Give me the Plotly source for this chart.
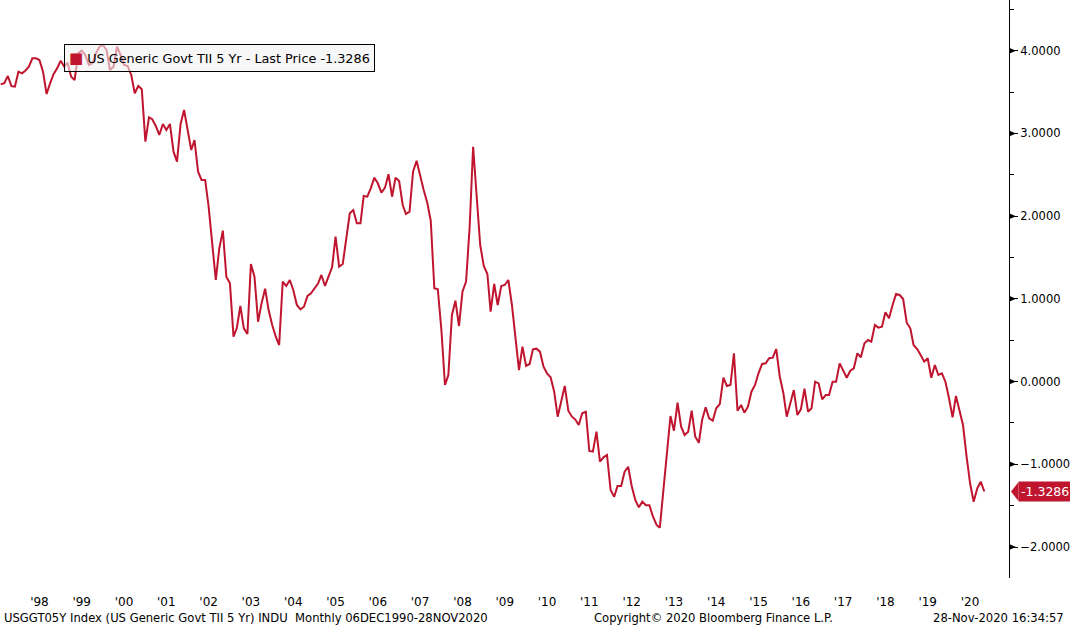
import pandas as pd
import plotly.graph_objects as go

# USGGT05Y Index, monthly last price
start_month = "1997-08-01"
real_yield = [
    # 1997 (Aug-Dec)
    3.594, 3.606, 3.694, 3.573, 3.565,
    # 1998
    3.746, 3.726, 3.758, 3.806, 3.908, 3.908, 3.887, 3.746, 3.476, 3.606, 3.718, 3.787,
    # 1999
    3.879, 3.806, 3.855, 3.686, 3.645, 3.968, 4.000, 3.948, 3.827, 3.847, 3.968, 4.048,
    # 2000
    4.069, 4.008, 3.767, 3.806, 4.048, 3.948, 3.827, 3.815, 3.706, 3.485, 3.573, 3.533,
    # 2001
    2.900, 3.195, 3.171, 3.090, 2.981, 3.114, 3.041, 3.114, 2.779, 2.658, 3.114, 3.283,
    # 2002
    3.062, 2.800, 2.920, 2.537, 2.437, 2.437, 2.114, 1.651, 1.228, 1.611, 1.824, 1.268,
    # 2003
    1.188, 0.543, 0.644, 0.914, 0.644, 0.575, 1.421, 1.268, 0.724, 0.946, 1.123, 0.865,
    # 2004
    0.684, 0.543, 0.442, 1.208, 1.156, 1.228, 1.107, 0.926, 0.874, 0.905, 1.035, 1.067,
    # 2005
    1.128, 1.188, 1.289, 1.156, 1.268, 1.382, 1.752, 1.389, 1.421, 1.744, 2.034, 2.074,
    # 2006
    1.913, 1.913, 2.243, 2.235, 2.336, 2.465, 2.397, 2.283, 2.344, 2.506, 2.235, 2.465,
    # 2007
    2.425, 2.135, 2.026, 2.054, 2.537, 2.670, 2.477, 2.316, 2.162, 1.945, 1.128, 1.116,
    # 2008
    0.624, -0.041, 0.080, 0.805, 0.978, 0.672, 1.087, 1.208, 1.872, 2.839, 2.235, 1.651,
    # 2009
    1.397, 1.301, 0.845, 1.180, 0.926, 1.156, 1.168, 1.228, 0.926, 0.515, 0.140, 0.422,
    # 2010
    0.189, 0.213, 0.390, 0.398, 0.362, 0.180, 0.100, 0.052, -0.122, -0.424, -0.222, -0.053,
    # 2011
    -0.352, -0.424, -0.456, -0.525, -0.383, -0.364, -0.839, -0.847, -0.606, -0.968, -0.915, -0.887,
    # 2012
    -1.310, -1.391, -1.262, -1.262, -1.089, -1.029, -1.262, -1.431, -1.520, -1.452, -1.495, -1.495,
    # 2013
    -1.633, -1.733, -1.766, -1.310, -0.847, -0.416, -0.593, -0.255, -0.545, -0.645, -0.606, -0.352,
    # 2014
    -0.666, -0.739, -0.464, -0.311, -0.444, -0.473, -0.323, -0.271, 0.047, -0.053, -0.041, 0.342,
    # 2015
    -0.352, -0.283, -0.376, -0.303, -0.122, -0.041, 0.100, 0.213, 0.221, 0.282, 0.289, 0.394,
    # 2016
    0.059, -0.141, -0.424, -0.255, -0.102, -0.404, -0.335, -0.086, -0.364, -0.323, -0.001, -0.021,
    # 2017
    -0.214, -0.162, -0.162, -0.001, -0.001, 0.221, 0.140, 0.047, 0.132, 0.161, 0.342, 0.294,
    # 2018
    0.463, 0.503, 0.482, 0.684, 0.652, 0.664, 0.838, 0.765, 0.926, 1.059, 1.047, 0.998,
    # 2019
    0.712, 0.644, 0.442, 0.394, 0.322, 0.241, 0.282, 0.047, 0.201, 0.080, 0.100, -0.001,
    # 2020 (Jan-Nov)
    -0.202, -0.432, -0.174, -0.343, -0.525, -0.908, -1.229, -1.452, -1.290, -1.210, -1.3286,
]
last_price = real_yield[-1]

tick_years = list(range(1998, 2021))
tick_labels = ["'%02d" % (y % 100) for y in tick_years]
y_ticks = [-2, -1, 0, 1, 2, 3, 4]

series_name = "US Generic Govt TII 5 Yr - Last Price"
footer_left = "USGGT05Y Index (US Generic Govt TII 5 Yr) INDU  Monthly 06DEC1990-28NOV2020"
footer_mid = "Copyright\u00a9 2020 Bloomberg Finance L.P."
footer_right = "28-Nov-2020 16:34:57"

months = pd.date_range(start_month, periods=len(real_yield), freq="MS")

RED = "#c0152f"
FONT = "DejaVu Sans, sans-serif"

# plot area in pixels: x 0..1011, y 0..578
W, H = 1070, 627
PL, PR, PT, PB = 0, 1011, 0, 578

# year labels sit mid-year; '98 centre at px 39.5, '20 centre at px 972
a = pd.Timestamp("1998-07-01")
b = pd.Timestamp("2020-07-01")
px_per_day = (972 - 39.5) / (b - a).days
x_left = a - pd.Timedelta(days=39.5 / px_per_day)
x_right = a + pd.Timedelta(days=(PR - 39.5) / px_per_day)

px_per_unit = 82.73
zero_y = 381.6
y_lo = (zero_y - PB) / px_per_unit
y_hi = zero_y / px_per_unit

fig = go.Figure()
fig.add_trace(go.Scatter(
    x=months, y=real_yield, mode="lines",
    line=dict(color=RED, width=2),
    showlegend=False, hoverinfo="x+y",
))

# triangular markers at the major ticks
shapes = []
tw = 7 / (PR - PL)
th = 3 / px_per_unit
for v in y_ticks:
    shapes.append(dict(
        type="path", xref="paper", yref="y",
        path="M 1,%f L 1,%f L %f,%f Z" % (v + th, v - th, 1 + tw, v),
        fillcolor="black", line=dict(width=0),
    ))
# pointer of the last price tag
shapes.append(dict(
    type="path", xref="paper", yref="y",
    path="M %f,%f L %f,%f L %f,%f Z" % (
        1 + 2 / PR, last_price,
        1 + 9.5 / PR, last_price + 9.5 / px_per_unit,
        1 + 9.5 / PR, last_price - 9.5 / px_per_unit),
    fillcolor=RED, line=dict(width=0),
))

annotations = [
    # legend box
    dict(
        xref="paper", yref="paper", x=64 / PR, y=1 - 44 / PB,
        xanchor="left", yanchor="top", showarrow=False,
        text="<span style='color:%s;font-size:15px'>\u25a0</span> %s %.4f" % (RED, series_name, last_price),
        font=dict(family=FONT, size=12.8, color="black"),
        bgcolor="rgba(242,242,242,0.6)", bordercolor="black", borderwidth=1, borderpad=4,
        align="left",
    ),
    # last price tag
    dict(
        xref="paper", yref="y", x=1 + 9 / PR, y=last_price,
        xanchor="left", yanchor="middle", showarrow=False,
        text="%.4f" % last_price,
        font=dict(family=FONT, size=12.5, color="white"),
        bgcolor=RED, borderpad=2,
    ),
    dict(xref="paper", yref="paper", x=2 / PR, y=-(618 - PB) / PB,
         xanchor="left", yanchor="middle", showarrow=False,
         text=footer_left, font=dict(family=FONT, size=11.6, color="black")),
    dict(xref="paper", yref="paper", x=593 / PR, y=-(618 - PB) / PB,
         xanchor="left", yanchor="middle", showarrow=False,
         text=footer_mid, font=dict(family=FONT, size=11.6, color="black")),
    dict(xref="paper", yref="paper", x=1068 / PR, y=-(618 - PB) / PB,
         xanchor="right", yanchor="middle", showarrow=False,
         text=footer_right, font=dict(family=FONT, size=11.6, color="black")),
]

fig.update_layout(
    width=W, height=H,
    margin=dict(l=PL, r=W - PR, t=PT, b=H - PB),
    paper_bgcolor="white", plot_bgcolor="white",
    font=dict(family=FONT, size=12, color="black"),
    shapes=shapes, annotations=annotations,
    xaxis=dict(
        range=[x_left, x_right], showgrid=False, zeroline=False, showline=False,
        tickmode="array", tickvals=[pd.Timestamp("%d-07-01" % y) for y in tick_years],
        ticktext=tick_labels, ticks="outside", ticklen=13, tickcolor="rgba(0,0,0,0)",
        tickfont=dict(family=FONT, size=12, color="black"),
    ),
    yaxis=dict(
        range=[y_lo, y_hi], side="right", showgrid=False, zeroline=False,
        showline=True, linecolor="black", linewidth=1,
        tickmode="linear", tick0=0, dtick=1, tickformat=".4f",
        ticks="outside", ticklen=8, tickcolor="black", tickwidth=1,
        minor=dict(ticks="outside", ticklen=4, tickcolor="black", dtick=0.5, tick0=0),
        tickfont=dict(family=FONT, size=11.5, color="black"),
    ),
)

# the page's default body margin would push the figure 8px off
fig.write_html("out.html", config={"displayModeBar": False},
               post_script="document.body.style.margin='0';")
